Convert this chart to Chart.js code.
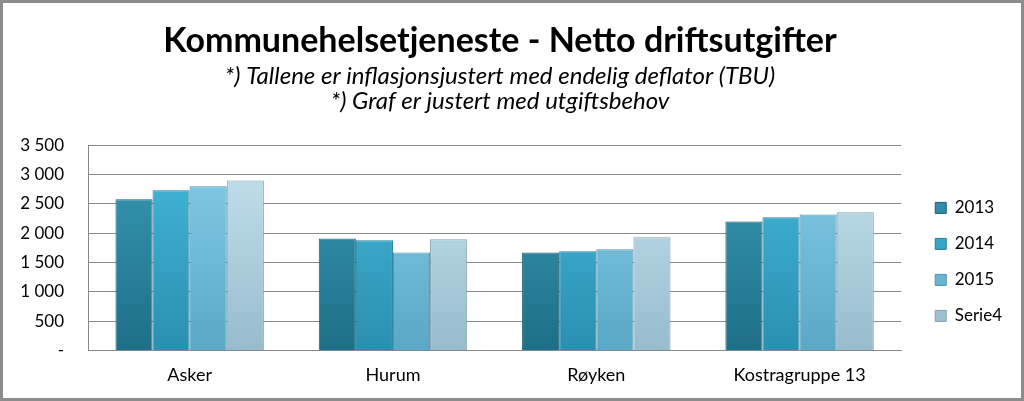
<!DOCTYPE html>
<html>
<head>
<meta charset="utf-8">
<script src="https://cdn.jsdelivr.net/npm/chart.js@4"></script>
<style>
  html, body { margin: 0; padding: 0; background: #fff; }
  #wrap {
    width: 1024px; height: 401px; box-sizing: border-box;
    border: 3px solid #8c8c8c; position: relative;
  }
  canvas { display: block; }
</style>
</head>
<body>
<div id="wrap"><canvas id="chart"></canvas></div>
<script>
// Data
const categories = ['Asker', 'Hurum', 'Røyken', 'Kostragruppe 13'];
const seriesNames = ['2013', '2014', '2015', 'Serie4'];
const values2013 = [2580, 1910, 1670, 2200];
const values2014 = [2730, 1880, 1690, 2270];
const values2015 = [2800, 1670, 1725, 2320];
const valuesSerie4 = [2900, 1895, 1930, 2355];
const yTicks = [0, 500, 1000, 1500, 2000, 2500, 3000, 3500];

// Base colours: [top, bottom, border]
const palette = [
  ['#3a9bb6', '#1d6f87', '#1b5f73'],
  ['#45b9dc', '#2a8fb0', '#257e9b'],
  ['#85cde8', '#5aa8c6', '#4d93ae'],
  ['#c5e3f0', '#98bccd', '#839fad']
];

const FONT = 'Lato, "Liberation Sans", sans-serif';

function gradientFor(i) {
  return function (ctx) {
    const chart = ctx.chart;
    const area = chart.chartArea;
    if (!area) return palette[i][0];
    const g = chart.ctx.createLinearGradient(0, area.top, 0, area.bottom);
    g.addColorStop(0, palette[i][0]);
    g.addColorStop(1, palette[i][1]);
    return g;
  };
}

// Formats 3500 -> "3 500", 0 -> "-"
function fmt(v) {
  if (v === 0) return '-';
  return String(v).replace(/\B(?=(\d{3})+(?!\d))/g, ' ');
}

const allValues = [values2013, values2014, values2015, valuesSerie4];

const datasets = seriesNames.map((name, i) => ({
  label: name,
  data: allValues[i],
  backgroundColor: gradientFor(i),
  borderColor: palette[i][2],
  borderWidth: 1,
  borderSkipped: 'bottom',
  barPercentage: 1.0,
  categoryPercentage: 0.73
}));

// Moves the legend a bit to the right without touching the plot area
const legendShift = {
  id: 'legendShift',
  afterUpdate(chart) {
    if (chart.legend) {
      chart.legend.left += 15;
      chart.legend.right += 15;
    }
  }
};

new Chart(document.getElementById('chart'), {
  type: 'bar',
  data: { labels: categories, datasets: datasets },
  plugins: [legendShift],
  options: {
    responsive: true,
    maintainAspectRatio: false,
    animation: false,
    layout: { padding: { left: 0, right: 24, top: 6, bottom: 6 } },
    plugins: {
      title: {
        display: true,
        text: 'Kommunehelsetjeneste - Netto driftsutgifter',
        font: { family: FONT, size: 34, weight: 'bold' },
        color: '#000',
        padding: { top: 12, bottom: 2 }
      },
      subtitle: {
        display: true,
        text: ['*) Tallene er inflasjonsjustert med endelig deflator (TBU)', '*) Graf er justert med utgiftsbehov'],
        font: { family: FONT, size: 24, style: 'italic', lineHeight: 1.05 },
        color: '#000',
        padding: { top: 0, bottom: 31 }
      },
      legend: {
        position: 'right',
        align: 'start',
        // empty title only pushes the legend items down
        title: { display: true, text: '', padding: { top: 157, bottom: 0 } },
        labels: {
          font: { family: FONT, size: 17 },
          color: '#000',
          boxWidth: 11,
          boxHeight: 11,
          padding: 19
        }
      },
      tooltip: { enabled: false }
    },
    scales: {
      x: {
        grid: { display: false },
        border: { color: '#888', width: 1 },
        ticks: { font: { family: FONT, size: 18 }, color: '#000', padding: 6 }
      },
      y: {
        min: 0,
        max: 3500,
        afterBuildTicks: axis => { axis.ticks = yTicks.map(v => ({ value: v })); },
        afterFit: axis => { axis.width = 85; },
        grid: { color: '#8a8a8a', drawTicks: false },
        border: { color: '#888', width: 1 },
        ticks: {
          font: { family: FONT, size: 17 },
          color: '#000',
          padding: 24,
          callback: v => fmt(v)
        }
      }
    }
  }
});
</script>
</body>
</html>
